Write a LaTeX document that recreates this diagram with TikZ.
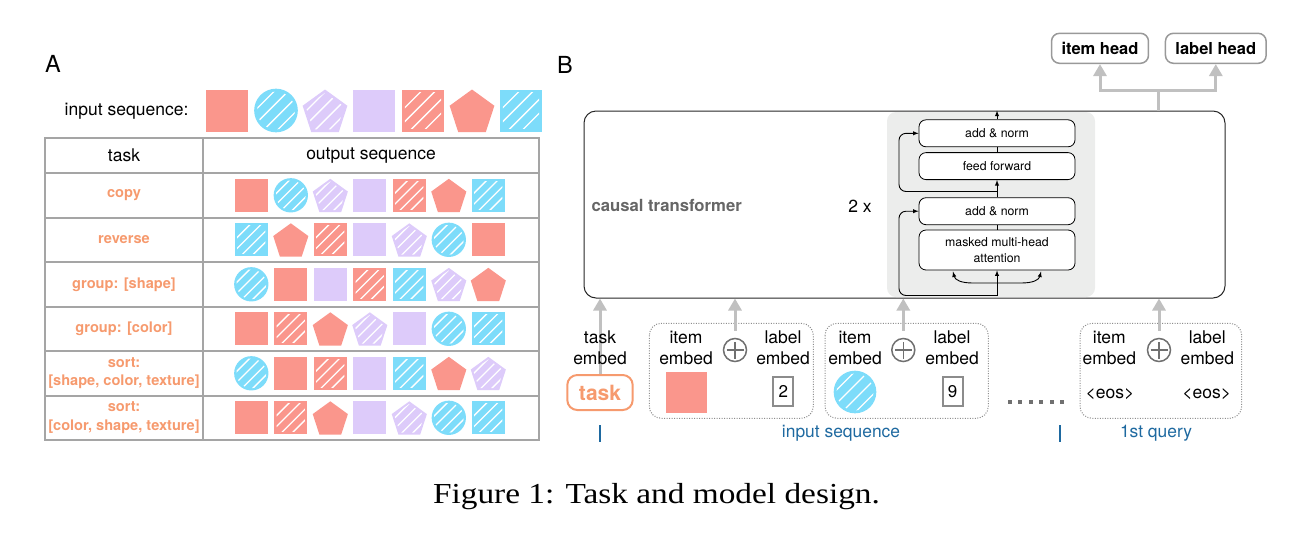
\documentclass[tikz,border=0pt]{standalone}
\usepackage{fontspec}
\setmainfont{TeX Gyre Heros}
\newfontfamily\capfont{Liberation Serif}
\usetikzlibrary{arrows.meta,calc}

\definecolor{salmon}{RGB}{250,150,140}
\definecolor{skyc}{RGB}{125,220,250}
\definecolor{lilac}{RGB}{221,203,250}
\definecolor{tangerine}{RGB}{246,154,110}
\definecolor{seqblue}{RGB}{30,105,160}
\definecolor{gridgray}{RGB}{165,165,165}
\definecolor{panelgray}{RGB}{236,237,236}
\definecolor{arrowgray}{RGB}{192,192,192}
\definecolor{plusgray}{RGB}{112,112,112}

\tikzset{hatch/.style={white, line width=1.3pt}}
\newcommand{\pentpath}{(-90:0.56) -- (-18:0.56) -- (54:0.56) -- (126:0.56) -- (198:0.56) -- cycle}
\newcommand{\hatchlines}{\foreach \k in {-0.5,-0.17,0.17,0.5} \draw[hatch] (\k-0.6,0.6) -- (\k+0.6,-0.6);}
\newcommand{\shpsq}[1]{\fill[#1] (-0.5,-0.5) rectangle (0.5,0.5);}
\newcommand{\shphsq}[1]{\fill[#1] (-0.5,-0.5) rectangle (0.5,0.5);
  \begin{scope}\clip (-0.43,-0.43) rectangle (0.43,0.43); \hatchlines\end{scope}}
\newcommand{\shphcirc}[1]{\fill[#1] (0,0) circle (0.52);
  \begin{scope}\clip (0,0) circle (0.45); \hatchlines\end{scope}}
\newcommand{\shppent}[1]{\fill[#1, shift={(0,0.06)}] \pentpath;}
\newcommand{\shphpent}[1]{\begin{scope}[shift={(0,0.06)}]\fill[#1] \pentpath;
  \clip[scale=0.86] \pentpath; \hatchlines\end{scope}}
\newcommand{\itma}{\shpsq{salmon}}
\newcommand{\itmb}{\shphcirc{skyc}}
\newcommand{\itmc}{\shphpent{lilac}}
\newcommand{\itmd}{\shpsq{lilac}}
\newcommand{\itme}{\shphsq{salmon}}
\newcommand{\itmf}{\shppent{salmon}}
\newcommand{\itmg}{\shphsq{skyc}}

\begin{document}
\begin{tikzpicture}[x=1pt, y=-1pt,
  panel/.style={font=\fontsize{23.5}{26}\selectfont},
  plain/.style={font=\fontsize{17.5}{20.6}\selectfont},
  gridline/.style={draw=gridgray, line width=2pt},
  tasktext/.style={text=tangerine, font=\bfseries\fontsize{14.6}{18.3}\selectfont, align=center},
  tfbox/.style={draw=black!85, line width=1pt, rounded corners=12, minimum width=641, minimum height=187, inner sep=0pt},
  blk/.style={draw=black, fill=white, line width=0.8pt, rounded corners=7, minimum width=156, minimum height=27, inner sep=0pt, align=center, font=\fontsize{12.3}{15.5}\selectfont},
  ctext/.style={text=black!60, font=\bfseries\fontsize{16.7}{20}\selectfont},
  headbox/.style={draw=black!40, line width=1.5pt, rounded corners=8, minimum height=30, inner xsep=10pt, font=\bfseries\fontsize{16.5}{20}\selectfont},
  gline/.style={arrowgray, line width=3pt},
  garrow/.style={arrowgray, line width=3pt, -{Triangle[width=13pt,length=12pt]}},
  grpbox/.style={draw=black!45, line width=1pt, dash pattern=on 1pt off 1.5pt, rounded corners=12},
  embtext/.style={align=center, font=\fontsize{17.5}{20.6}\selectfont},
  plus/.style={circle, draw=plusgray, line width=1.5pt, minimum size=23, inner sep=0pt,
    path picture={\draw[plusgray, line width=1.5pt]
      ([xshift=-8.5pt]path picture bounding box.center) -- ([xshift=8.5pt]path picture bounding box.center)
      ([yshift=-8.5pt]path picture bounding box.center) -- ([yshift=8.5pt]path picture bounding box.center);}},
  numbox/.style={draw=black!45, line width=2pt, minimum width=20, minimum height=28.7, inner sep=0pt, font=\fontsize{17}{20}\selectfont},
  taskbox/.style={draw=tangerine, line width=2pt, rounded corners=10, minimum width=65.4, minimum height=35, text=tangerine, font=\bfseries\fontsize{21}{24}\selectfont},
  seqtext/.style={text=seqblue, font=\fontsize{17.4}{20}\selectfont},
  seqtick/.style={seqblue, line width=1.5pt}]

  \useasboundingbox (0,0) rectangle (1310,550);

  \node[panel] (pa) at (53,63.5) {A};
  \node[panel] (pb) at (565,64.5) {B};

  \node[plain, anchor=east] (inlbl) at (192,111.7) {input sequence:};
  \foreach \q [count=\i from 0] in {a,b,c,d,e,f,g}
    {\begin{scope}[shift={({227+49*\i},110.5)}, scale=42] \csname itm\q\endcsname \end{scope}}

  \draw[gridline] (45,138) rectangle (539,440);
  \foreach \yy in {173,217.5,262,306.5,351,395.5} \draw[gridline] (45,\yy) -- (539,\yy);
  \draw[gridline] (203,138) -- (203,440);
  \node[plain] (tasklbl) at (124,155.5) {task};
  \node[plain] (outlbl) at (371,155.5) {output sequence};

  \foreach \lab [count=\r from 0] in {copy, reverse, {group: [shape]}, {group: [color]}, {sort:\\{}[shape, color, texture]}, {sort:\\{}[color, shape, texture]}}
    \node[tasktext] (row\r) at (124,{195.3+44.5*\r}) {\lab};

  \foreach \row [count=\r from 0] in {{a,b,c,d,e,f,g},{g,f,e,d,c,b,a},{b,a,d,e,g,c,f},{a,e,f,c,d,b,g},{b,a,e,d,g,f,c},{a,e,f,d,c,b,g}}
    \foreach \q [count=\i from 0] in \row
      {\begin{scope}[shift={({251.3+39.5*\i},{195.3+44.5*\r})}, scale=33] \csname itm\q\endcsname \end{scope}}

  \node[tfbox] (tf) at (904.5,204.5) {};
  \fill[panelgray, rounded corners=9] (887,112) rectangle (1095,297);
  \node[ctext, anchor=west] (ctlbl) at (588,205.7) {causal transformer};
  \node[plain] (rep) at (860,206.7) {2 x};

  \node[blk] (an1) at (997,133.3) {add \& norm};
  \node[blk] (ff) at (997,166.1) {feed forward};
  \node[blk] (an2) at (997,211.2) {add \& norm};
  \node[blk, minimum height=40] (mha) at (997,250) {masked multi-head\\attention};

  \coordinate (base) at (997,295.5);
  \coordinate (fork) at (997,283);
  \coordinate (skip) at (997,191.5);
  \coordinate (kin) at (953,271.5);
  \coordinate (vin) at (1041,271.5);
  \draw[-latex, line width=0.9pt] (base) -- (mha.south);
  \draw[-latex, line width=0.9pt] (fork) -- (973,283) .. controls (961,283) and (955,280) .. (kin);
  \draw[-latex, line width=0.9pt] (fork) -- (1021,283) .. controls (1033,283) and (1039,280) .. (vin);
  \draw[-latex, line width=0.9pt, rounded corners=7] (base) -- (899,295.5) |- (an2.west);
  \draw[line width=0.9pt] (mha.north) -- (an2.south);
  \draw[-latex, line width=0.9pt] (an2.north) -- (ff.south);
  \draw[-latex, line width=0.9pt, rounded corners=7] (skip) -- (899,191.5) |- (an1.west);
  \draw[line width=0.9pt] (ff.north) -- (an1.south);
  \draw[-latex, line width=0.9pt] (an1.north) -- (an1.north |- tf.north);

  \node[headbox] (ihead) at (1100,48.3) {item head};
  \node[headbox] (lhead) at (1215.8,48.3) {label head};
  \coordinate (split) at (1158,90);
  \draw[gline] (split |- tf.north) -- (split);
  \draw[garrow] (split) -| (ihead.south);
  \draw[garrow] (split) -| (lhead.south);

  \node[taskbox] (task) at (600,392.5) {task};
  \draw[garrow] (task.north) -- (task.north |- tf.south);
  \node[embtext] (temb) at (600,348) {task\\embed};

  \draw[grpbox] (649.3,323.3) rectangle (813.3,418.3);
  \node[embtext] (iemb1) at (686,348) {item\\embed};
  \node[plus] (add1) at (735,350) {};
  \node[embtext] (lemb1) at (783,348) {label\\embed};
  \begin{scope}[shift={(686.3,392)}, scale=41] \itma \end{scope}
  \node[numbox] (lab1) at (783.3,391.7) {2};
  \draw[garrow] ([yshift=7pt]add1.north) -- (add1 |- tf.south);

  \draw[grpbox] (825,323.3) rectangle (988.3,418.3);
  \node[embtext] (iemb2) at (855,348) {item\\embed};
  \node[plus] (add2) at (903.3,350) {};
  \node[embtext] (lemb2) at (952,348) {label\\embed};
  \begin{scope}[shift={(855,392)}, scale=41] \itmb \end{scope}
  \node[numbox] (lab2) at (952.7,391.7) {9};
  \draw[garrow] ([yshift=7pt]add2.north) -- (add2 |- tf.south);

  \foreach \i in {0,...,5} \fill[plusgray] ({1008+10.4*\i},399.7) rectangle ++(4,4);

  \draw[grpbox] (1080,323.3) rectangle (1241.7,418.3);
  \node[embtext] (iemb3) at (1109.3,348) {item\\embed};
  \node[plus] (add3) at (1159,350) {};
  \node[embtext] (lemb3) at (1207.3,348) {label\\embed};
  \node[plain] (eos1) at (1110,394.3) {<eos>};
  \node[plain] (eos2) at (1206.7,394.3) {<eos>};
  \draw[garrow] ([yshift=7pt]add3.north) -- (add3 |- tf.south);

  \draw[seqtick] (600,425) -- (600,441.7);
  \draw[seqtick] (1060,425) -- (1060,441.7);
  \node[seqtext] (seqlbl) at (841,433.3) {input sequence};
  \node[seqtext] (qlbl) at (1156,433) {1st query};

  \node[font=\capfont\fontsize{29}{32}\selectfont, xscale=1.15, transform shape] (cap) at (656.5,496.5) {Figure 1: Task and model design.};
\end{tikzpicture}
\end{document}
